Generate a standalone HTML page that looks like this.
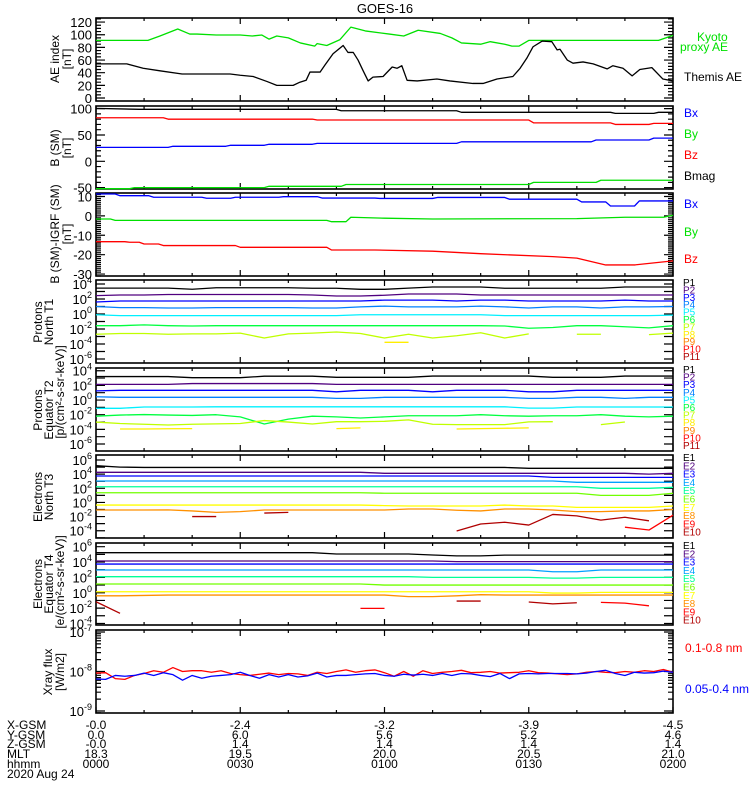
<!DOCTYPE html>
<html><head><meta charset="utf-8"><title>GOES-16</title>
<style>
html,body{margin:0;padding:0;background:#fff;}
svg{display:block;font-family:"Liberation Sans",sans-serif;}
</style></head>
<body>
<svg id="chart" width="750" height="800" viewBox="0 0 750 800" xmlns="http://www.w3.org/2000/svg">
<rect x="0" y="0" width="750" height="800" fill="#fff"/>
<text x="385" y="13" font-size="13" text-anchor="middle">GOES-16</text>
<g id="axes"></g><g id="series"></g><g id="labels"></g>
</svg>
<script>
// ---------- DATA ----------
const kyotoT=[0,10.8,13.3,17,19.5,21,25,30,32.5,34.5,36,37.6,40,42.5,45.5,46,48,50.7,53,56,61,64,67,71.6,74,76,80,82,85,86.5,88,90,117,120];
const kyotoV=[91,91,98,109,101,101,99.5,99.5,98,99.5,93,98,95,87,82,86,83,92,112,106,101,98,107,102,95,87,85,89,85,82,82,91,91,99];
const themisT=[0,6.4,9.8,13.3,17.9,21.6,27.9,30,32.7,35.6,37.6,41,42.4,43.7,44.5,46.6,47.6,49.3,51.4,52.4,53.5,54.5,55.5,56.6,57.6,59.7,61.6,62.6,63.6,64.7,66.8,70.9,73.6,78.4,80.5,83.4,86.7,88.2,89.6,90.9,92.8,94.8,95.9,96.5,98,99.2,101.3,103.4,106.3,107.5,109.6,111.5,113.1,115.6,117.9,120];
const themisV=[54,54,47,43,38,38,38,36,34,26,20,20,25,28,41,41,52,70,83,72,72,60,44,27,33,34,49,47,51,28,27,30,27,23,23,30,34,47,63,81,90,89,76,77,60,55,57,54,46,51,47,35,45,48,30,27];

const bmagT=[0,9,50,51,75,76,107,108,116,117,120];
const bmagV=[100.5,98.7,98.7,96,96,93,93,91,91,93,93];
const bzT=[0,14,15,16,45,46,90,91,107,108,115,116,120];
const bzV=[82.7,82.7,80,80,80,78.4,78.4,73,73,70,70,72,72];
const bxT=[0,15,16,27,28,35,36,45,46,75,76,103,104,115,116,120];
const bxV=[26.5,26.5,28.5,28.5,30.4,30.4,32.3,32.3,34,34,37,37,40.4,40.4,44,44];
const byT=[0,7,8,35,36,51,52,90,91,104,105,120];
const byV=[-52,-52,-50,-50,-47.5,-47.5,-44,-44,-40,-40,-36,-36];

const dbxT=[0,4,5,11,12,22,23,28,29,38,39,46,47,58,59,70,71,85,86,100,101,106,107,112,113,120];
const dbxV=[11.3,11.3,10.4,10.4,9.6,9.6,9.1,9.1,9.6,9.6,9.9,9.9,9.2,9.2,9.0,9.0,9.5,9.5,8.6,8.6,7.2,7.2,5.1,5.1,7.7,7.7];
const dbyT=[0,3,4,48,49,52,53,60,70,100,110,118,120];
const dbyV=[-1.6,-1.6,-2.3,-2.3,-3,-3,-0.7,-1.2,-1.6,-1.4,-0.7,-0.7,0.3];
const dbzT=[0,6,7,9,10,13,14,29,30,48,49,58,70,80,95,100,106,112,120];
const dbzV=[-13.3,-13.3,-13.6,-13.6,-14.5,-14.5,-15.3,-15.3,-16.2,-16.2,-17.6,-17.6,-18.2,-19.5,-21,-21.8,-25.3,-25.3,-23.2];

// 5-minute grid (minutes after 0000), flux values as log10
const chanT=[0,5,10,15,20,25,30,35,40,45,50,55,60,65,70,75,80,85,90,95,100,105,110,115,120];
const p1T1=[3.45,3.45,3.45,3.45,3.3,3.5,3.5,3.5,3.5,3.43,3.43,3.29,3.29,3.45,3.6,3.6,3.6,3.43,3.43,3.43,3.43,3.43,3.6,3.6,3.6];
const p2T1=[2.45,2.53,2.53,2.6,2.6,2.6,2.6,2.6,2.6,2.53,2.4,2.4,2.5,2.66,2.66,2.66,2.53,2.53,2.53,2.53,2.53,2.53,2.53,2.53,2.53];
const p3T1=[1.6,1.73,1.73,1.73,1.73,1.73,1.73,1.73,1.73,1.73,1.73,1.73,1.85,1.85,1.85,1.73,1.85,1.85,1.73,1.73,1.73,1.73,1.85,1.73,1.73];
const p4T1=[1.0,0.85,0.85,0.8,0.8,0.85,0.85,0.85,0.85,0.8,0.8,0.95,1.05,0.95,0.95,0.95,1.05,0.95,0.8,0.95,0.95,0.8,0.95,0.95,1.0];
const p5T1=[-0.1,-0.22,-0.22,-0.22,-0.22,-0.22,-0.22,-0.22,-0.22,-0.22,-0.22,-0.1,-0.1,-0.1,-0.1,-0.1,-0.1,-0.22,-0.22,-0.22,-0.22,-0.22,-0.22,-0.22,-0.15];
const p6T1=[-1.56,-1.56,-1.45,-1.56,-1.6,-1.56,-1.56,-1.56,-1.56,-1.56,-1.56,-1.56,-1.56,-1.56,-1.56,-1.56,-1.56,-1.6,-1.9,-1.8,-1.56,-1.56,-1.7,-1.85,-1.56];
const p7T1=[-2.7,-2.6,-2.6,-2.7,-2.65,-2.65,-2.55,-3.2,-2.65,-2.55,-2.4,-2.6,-3.2,-2.7,-3.2,-2.9,-2.5,-3.2,-2.65,null,-2.7,-2.7,null,-2.75,-2.55];
const p8T1=[null,null,null,null,null,null,null,null,null,null,null,null,-3.77,-3.77,null,null,null,null,null,null,null,null,null,null,null];

const p1T2=[3.2,3.2,3.2,3.2,3.05,3.05,3.05,3.25,3.25,3.25,3.1,3.1,3.1,3.1,3.27,3.27,3.27,3.27,3.27,3.1,3.1,3.1,3.27,3.27,3.27];
const p2T2=[2.14,2.14,2.14,2.14,2.25,2.25,2.25,2.25,2.25,2.25,2.14,2.14,2.14,2.14,2.14,2.14,2.14,2.14,2.14,2.14,2.14,2.14,2.14,2.14,2.14];
const p3T2=[1.25,1.33,1.33,1.33,1.33,1.33,1.33,1.33,1.33,1.33,1.12,1.33,1.33,1.33,1.12,1.33,1.33,1.33,1.12,1.12,1.33,1.33,1.33,1.33,1.33];
const p4T2=[0.45,0.37,0.37,0.37,0.37,0.37,0.37,0.37,0.37,0.37,0.23,0.23,0.37,0.37,0.37,0.37,0.37,0.37,0.23,0.23,0.37,0.37,0.23,0.37,0.37];
const p5T2=[-1.13,-1.13,-0.95,-0.95,-0.95,-0.92,-0.92,-0.92,-0.92,-0.92,-0.92,-0.92,-0.92,-0.92,-0.92,-0.92,-0.92,-0.92,-1.1,-1.1,-0.95,-0.95,-0.95,-0.95,-0.95];
const p6T2=[-2.2,-2.05,-1.98,-2.05,-2.1,-2.0,-2.3,-3.27,-2.6,-2.2,-2.3,-2.45,-2.3,-2.14,-2.14,-2.14,-2.0,-2.14,-2.2,-2.14,-2.14,-2.0,-2.2,-2.3,-2.2];
const p7T2=[-3.0,-3.2,-3.3,-3.4,-3.3,-3.25,-3.2,-2.8,-3.0,-3.27,-2.95,-2.95,-2.9,-2.7,-3.3,-3.35,-3.35,-3.35,-2.98,-2.95,null,-3.35,-3.0,null,null];
const p8T2=[null,-3.95,-3.95,-3.92,-3.9,null,null,null,null,null,-3.9,-3.8,null,null,null,-3.95,-3.9,-3.85,-3.8,null,null,null,null,null,null];

const e1T3=[5.2,5.0,4.95,4.95,4.95,4.95,4.95,4.95,4.95,4.95,4.95,4.95,4.95,4.95,4.95,4.95,4.95,4.95,4.83,4.83,4.83,4.83,4.83,4.83,4.83];
const e2T3=[4.26,4.26,4.26,4.26,4.26,4.26,4.26,4.26,4.26,4.26,4.26,4.26,4.12,4.12,4.12,4.12,4.12,4.12,4.12,4.12,4.12,4.12,4.12,4.0,4.12];
const e3T3=[3.74,3.74,3.74,3.74,3.74,3.74,3.74,3.74,3.74,3.74,3.74,3.74,3.74,3.74,3.74,3.74,3.74,3.74,3.74,3.55,3.55,3.55,3.55,3.55,3.55];
const e4T3=[3.03,3.03,3.03,3.03,3.03,3.03,3.03,3.03,3.03,3.03,3.03,3.03,3.03,3.03,3.03,3.03,3.03,3.03,3.03,3.03,2.85,2.85,2.85,2.85,2.85];
const e5T3=[2.22,2.22,2.22,2.22,2.22,2.22,2.22,2.22,2.22,2.22,2.22,2.22,2.22,2.22,2.22,2.22,2.22,2.22,2.22,2.22,2.22,2.0,2.0,2.0,2.14];
const e6T3=[1.37,1.37,1.37,1.37,1.37,1.37,1.37,1.37,1.37,1.37,1.37,1.37,1.3,1.3,1.3,1.3,1.3,1.3,1.3,1.3,1.3,1.0,1.0,1.0,1.3];
const e7T3=[-0.37,-0.37,-0.37,-0.37,-0.37,-0.37,-0.37,-0.37,-0.37,-0.37,-0.37,-0.37,-0.45,-0.5,-0.5,-0.5,-0.5,-0.37,-0.5,-0.5,-0.7,-0.7,-0.7,-0.7,-0.5];
const e8T3=[-1.07,-1.07,-1.07,-1.05,-1.2,-1.4,-1.3,-1.07,-1.07,-1.07,-1.07,-1.07,-1.07,-0.93,-0.93,-1.1,-1.2,-0.93,-0.93,-1.07,-1.3,-1.3,-1.2,-1.2,-1.0];
const e9T3=[null,null,null,null,null,null,null,null,null,null,null,null,null,null,null,null,null,null,null,null,null,null,-3.5,-3.9,-1.8];
const e10T3=[null,null,null,null,-2.0,-2.0,null,-1.5,-1.4,null,null,null,null,null,null,-4.04,-3.05,-2.8,-3.2,-1.7,-1.9,-2.5,-2.1,-2.6,null];

const e1T4=[5.22,5.22,5.22,5.22,5.22,5.22,5.22,5.22,5.22,5.22,5.05,5.05,5.05,5.05,4.92,4.8,4.8,4.9,4.9,4.9,4.9,4.9,4.9,4.9,4.9];
const e2T4=[4.14,4.14,4.14,4.14,4.14,4.14,4.14,4.14,4.14,4.14,4.14,4.14,4.14,4.14,4.14,4.05,4.05,4.05,4.05,4.05,4.05,4.05,4.05,4.05,4.05];
const e3T4=[3.74,3.74,3.74,3.74,3.74,3.74,3.74,3.74,3.74,3.74,3.74,3.74,3.74,3.74,3.74,3.74,3.74,3.74,3.74,3.74,3.74,3.74,3.74,3.74,3.74];
const e4T4=[2.96,2.96,2.96,2.96,2.96,2.96,2.96,2.96,2.96,2.96,2.96,2.96,2.96,2.96,2.96,2.96,2.96,2.96,2.96,2.74,2.74,2.96,2.96,2.96,2.96];
const e5T4=[2.09,2.09,2.09,2.09,2.09,2.09,2.09,2.09,2.09,2.09,2.09,2.09,2.09,2.09,2.0,2.0,2.0,2.0,2.0,1.9,1.9,2.0,2.0,2.0,2.0];
const e6T4=[1.14,1.14,1.14,1.14,1.14,1.14,1.14,1.14,1.14,1.14,1.14,1.14,1.0,1.0,1.0,1.0,1.0,1.0,1.0,1.0,1.0,1.0,1.0,1.0,1.0];
const e7T4=[0.13,0.13,0.13,0.13,0.13,0.13,0.13,0.13,0.13,0.13,0.13,0.13,0.13,0.13,0.13,0.13,0.13,0.13,0.13,-0.04,-0.04,0.05,0.05,0.05,0.05];
const e8T4=[-0.4,-0.4,-0.35,-0.3,-0.3,-0.3,-0.3,-0.3,-0.3,-0.3,-0.3,-0.3,-0.3,-0.5,-0.5,-0.4,-0.25,-0.3,-0.3,-0.3,-0.3,-0.3,-0.3,-0.3,-0.3];
const e9T4=[null,null,null,null,null,null,null,null,null,null,null,-2.03,-2.03,null,null,null,null,null,null,null,null,-1.25,-1.35,-1.7,null];
const e10T4=[-1.17,-2.68,null,null,null,null,null,null,null,null,null,null,null,null,null,-1.08,-1.08,null,-1.2,-1.45,-1.3,null,null,null,null];

// X-ray flux (log10 W/m2), 2-minute grid
const xrayT=[0,2,4,6,8,10,12,14,16,18,20,22,24,26,28,30,32,34,36,38,40,42,44,46,48,50,52,54,56,58,60,62,64,66,68,70,72,74,76,78,80,82,84,86,88,90,92,94,96,98,100,102,104,106,108,110,112,114,116,118,120];
const xrayLong=[-8.04,-8.03,-8.18,-8.2,-8.1,-8.05,-7.98,-8.02,-7.9,-8.0,-7.98,-7.98,-8.02,-7.98,-8.05,-8.08,-8.1,-8.07,-8.04,-8.08,-8.05,-8.06,-8.1,-8.02,-8.05,-8.0,-7.96,-8.02,-7.98,-7.96,-8.03,-8.12,-8.0,-8.12,-7.98,-8.05,-8.02,-8.0,-7.97,-8.03,-8.02,-8.0,-8.04,-8.03,-8.02,-7.98,-8.03,-8.04,-8.06,-8.08,-8.06,-8.02,-8.0,-8.02,-8.03,-8.0,-8.02,-7.98,-8.0,-7.95,-8.02];
const xrayShort=[-8.19,-8.2,-8.1,-8.12,-8.1,-8.04,-8.1,-8.03,-8.08,-8.22,-8.1,-8.17,-8.12,-8.1,-8.08,-8.02,-8.1,-8.17,-8.08,-8.14,-8.08,-8.14,-8.11,-8.04,-8.14,-8.1,-8.1,-8.08,-8.06,-8.05,-8.1,-8.12,-8.07,-8.09,-8.07,-8.1,-8.05,-8.1,-8.05,-8.06,-8.1,-8.13,-8.05,-8.18,-8.06,-8.05,-8.06,-8.05,-8.05,-8.05,-8.06,-8.04,-8.0,-7.97,-8.05,-8.1,-8.02,-8.04,-8.03,-7.99,-8.02];

// ephemeris table
const ephRows=['X-GSM','Y-GSM','Z-GSM','MLT','hhmm'];
const ephXgsm=['-0.0','-2.4','-3.2','-3.9','-4.5'];
const ephYgsm=['0.0','6.0','5.6','5.2','4.6'];
const ephZgsm=['-0.0','1.4','1.4','1.4','1.4'];
const ephMlt=['18.3','19.5','20.0','20.5','21.0'];
const ephHhmm=['0000','0030','0100','0130','0200'];
const ephTimes=[0,30,60,90,120];

// ---------- LAYOUT ----------
const NS='http://www.w3.org/2000/svg';
const gAxes=document.getElementById('axes'),gSer=document.getElementById('series'),gLab=document.getElementById('labels');
const X0=96,X1=673,TMAX=120;
function xs(t){return X0+t/TMAX*(X1-X0);}
function mk(tag,parent,attrs){const e=document.createElementNS(NS,tag);for(const k in attrs)e.setAttribute(k,attrs[k]);parent.appendChild(e);return e;}
const panels={
 ae:{top:18,bot:101,min:-4.7,max:126.4},
 b:{top:106,bot:189,min:-52.6,max:105},
 db:{top:193,bot:276,min:-31,max:11.8},
 t1:{top:280,bot:363,min:-6.53,max:4.53},
 t2:{top:368,bot:451,min:-6.95,max:4.37},
 t3:{top:455,bot:538,min:-5.03,max:6.71},
 t4:{top:543,bot:625,min:-4.2,max:6.48},
 xr:{top:630,bot:713,min:-9.05,max:-6.95}
};
function ys(p,v){return p.top+(p.max-v)/(p.max-p.min)*(p.bot-p.top);}

function frame(key,name,majors,majLen,minorStep,minLen,labels,isLog,logMinor){
 const p=panels[key];
 const g=mk('g',gAxes,{});
 
 
 const r=mk('rect',g,{x:X0,y:p.top,width:X1-X0,height:p.bot-p.top,fill:'none',stroke:'#000','stroke-width':1.6});
 
 
 let d='';
 for(let t=0;t<=TMAX;t+=10){const x=xs(t);const L=(t%30===0)?6:3;d+=`M${x},${p.bot}v${-L}M${x},${p.top}v${L}`;}
 majors.forEach(v=>{const y=ys(p,v);if(y<p.top-0.5||y>p.bot+0.5)return;d+=`M${X0},${y}h${majLen}M${X1},${y}h${-majLen}`;});
 if(minorStep){const s=Math.ceil(p.min/minorStep)*minorStep;for(let v=s;v<=p.max;v+=minorStep){const y=ys(p,v);d+=`M${X0},${y}h${minLen}M${X1},${y}h${-minLen}`;}}
 if(logMinor){for(let e=Math.floor(p.min);e<=p.max;e++){for(let m=2;m<10;m++){const v=e+Math.log10(m);if(v<p.min||v>p.max)continue;const y=ys(p,v);d+=`M${X0},${y}h${minLen}M${X1},${y}h${-minLen}`;}}}
 const path=mk('path',g,{d:d,stroke:'#000','stroke-width':1.2,fill:'none'});
 
 
 labels.forEach(v=>{const y=ys(p,v);const t=mk('text',g,{x:92,y:y+5,'font-size':13,'text-anchor':'end'});
  
  
  if(isLog){t.textContent='10';const sp=mk('tspan',t,{dy:-6,'font-size':9});sp.textContent=String(v);}
  else t.textContent=String(v);});
}
frame('ae','ae-index',[0,20,40,60,80,100,120],9,5,5,[0,20,40,60,80,100,120],false);
frame('b','b-sm',[-50,0,50,100],9,10,5,[-50,0,50,100],false);
frame('db','b-igrf',[-30,-20,-10,0,10],9,1,5,[-30,-20,-10,0,10],false);
frame('t1','protons-t1',[4,3,2,1,0,-1,-2,-3,-4,-5,-6],9,0,0,[4,2,0,-2,-4,-6],true);
frame('t2','protons-t2',[4,3,2,1,0,-1,-2,-3,-4,-5,-6],9,0,0,[4,2,0,-2,-4,-6],true);
frame('t3','electrons-t3',[6,5,4,3,2,1,0,-1,-2,-3,-4,-5],9,0,0,[6,4,2,0,-2,-4],true);
frame('t4','electrons-t4',[6,5,4,3,2,1,0,-1,-2,-3,-4],9,0,0,[6,4,2,0,-2,-4],true);
frame('xr','xray',[-7,-8,-9],9,0,5,[-7,-8,-9],true,true);

function line(key,T,V,color,name){
 const p=panels[key];let d='',pen=false;
 for(let i=0;i<T.length;i++){const v=V[i];if(v===null||v===undefined){pen=false;continue;}
  d+=(pen?'L':'M')+xs(T[i]).toFixed(2)+','+ys(p,v).toFixed(2);pen=true;}
 const e=mk('path',gSer,{d:d,stroke:color,'stroke-width':1.3,fill:'none','stroke-linejoin':'round'});
 
 
}
const GRN='#00e000';
line('ae',kyotoT,kyotoV,GRN,'kyoto-ae-line');
line('ae',themisT,themisV,'#000','themis-ae-line');
line('b',bmagT,bmagV,'#000','bmag-line');
line('b',bzT,bzV,'#ff0000','bz-line');
line('b',bxT,bxV,'#0000ff','bx-line');
line('b',byT,byV,GRN,'by-line');
line('db',dbxT,dbxV,'#0000ff','dbx-line');
line('db',dbyT,dbyV,GRN,'dby-line');
line('db',dbzT,dbzV,'#ff0000','dbz-line');

const PC=['#000000','#50007f','#0000ff','#0080ff','#00f0ff','#00ff40','#c0ff00','#ffee00','#ff8000','#ff0000','#b00000'];
const EC=['#000000','#50007f','#0000ff','#00a0ff','#00ff99','#70ff00','#ffff00','#ff9000','#ff0000','#b00000'];
[p1T1,p2T1,p3T1,p4T1,p5T1,p6T1,p7T1,p8T1].forEach((a,i)=>line('t1',chanT,a,PC[i],'t1-p'+(i+1)+'-line'));
[p1T2,p2T2,p3T2,p4T2,p5T2,p6T2,p7T2,p8T2].forEach((a,i)=>line('t2',chanT,a,PC[i],'t2-p'+(i+1)+'-line'));
[e1T3,e2T3,e3T3,e4T3,e5T3,e6T3,e7T3,e8T3,e9T3,e10T3].forEach((a,i)=>line('t3',chanT,a,EC[i],'t3-e'+(i+1)+'-line'));
[e1T4,e2T4,e3T4,e4T4,e5T4,e6T4,e7T4,e8T4,e9T4,e10T4].forEach((a,i)=>line('t4',chanT,a,EC[i],'t4-e'+(i+1)+'-line'));
line('xr',xrayT,xrayLong,'#ff0000','xray-long-line');
line('xr',xrayT,xrayShort,'#0000ff','xray-short-line');

// ---------- LABELS ----------
function txt(x,y,s,opts,name){const t=mk('text',gLab,Object.assign({x:x,y:y,'font-size':12},opts||{}));t.textContent=s;
 
 return t;}
function vtxt(x,y,s,name,fs){const t=mk('text',gLab,{x:x,y:y,'font-size':fs||12,'text-anchor':'middle',transform:`rotate(-90 ${x} ${y})`});t.textContent=s;
 
 return t;}
vtxt(59,59,'AE index','ae-axis-title');vtxt(71,59,'[nT]','ae-axis-unit');
vtxt(59,148,'B (SM)','b-axis-title');vtxt(71,148,'[nT]','b-axis-unit');
vtxt(59,234,'B (SM)-IGRF (SM)','db-axis-title');vtxt(71,234,'[nT]','db-axis-unit');
vtxt(42,322,'Protons','t1-axis-title');vtxt(53,322,'North T1','t1-axis-subtitle');
vtxt(42,410,'Protons','t2-axis-title');vtxt(53,410,'Equator T2','t2-axis-subtitle');
vtxt(64,392,'[p/(cm\u00b2-s-sr-keV)]','proton-flux-unit');
vtxt(42,497,'Electrons','t3-axis-title');vtxt(53,497,'North T3','t3-axis-subtitle');
vtxt(42,584,'Electrons','t4-axis-title');vtxt(53,584,'Equator T4','t4-axis-subtitle');
vtxt(64,582,'[e/(cm\u00b2-s-sr-keV)]','electron-flux-unit');
vtxt(52,672,'Xray flux','xray-axis-title');vtxt(64,672,'[W/m2]','xray-axis-unit');

txt(697,41,'Kyoto',{fill:GRN},'legend-kyoto');
txt(680,51,'proxy AE',{fill:GRN},'legend-proxy-ae');
txt(684,81,'Themis AE',{},'legend-themis-ae');
txt(684,117,'Bx',{fill:'#0000ff'},'legend-bx');
txt(684,138,'By',{fill:GRN},'legend-by');
txt(684,159,'Bz',{fill:'#ff0000'},'legend-bz');
txt(684,180,'Bmag',{},'legend-bmag');
txt(684,208,'Bx',{fill:'#0000ff'},'legend-dbx');
txt(684,236,'By',{fill:GRN},'legend-dby');
txt(684,263,'Bz',{fill:'#ff0000'},'legend-dbz');
for(let i=0;i<11;i++){txt(683,286+i*7.4,'P'+(i+1),{'font-size':10,fill:PC[i]},'legend-t1-p'+(i+1));}
for(let i=0;i<11;i++){txt(683,373+i*7.6,'P'+(i+1),{'font-size':10,fill:PC[i]},'legend-t2-p'+(i+1));}
for(let i=0;i<10;i++){txt(683,461+i*8.3,'E'+(i+1),{'font-size':10,fill:EC[i]},'legend-t3-e'+(i+1));}
for(let i=0;i<10;i++){txt(683,549+i*8.3,'E'+(i+1),{'font-size':10,fill:EC[i]},'legend-t4-e'+(i+1));}
txt(685,652,'0.1-0.8 nm',{fill:'#ff0000'},'legend-xray-long');
txt(685,693,'0.05-0.4 nm',{fill:'#0000ff'},'legend-xray-short');

// ephemeris
const ephCols=[ephXgsm,ephYgsm,ephZgsm,ephMlt,ephHhmm];
const rowY=[729,739,748,758,768];
ephRows.forEach((r,i)=>{txt(7,rowY[i],r,{},'eph-row-'+r.toLowerCase());
 ephTimes.forEach((t,j)=>{txt(xs(t),rowY[i],ephCols[i][j],{'text-anchor':'middle'},'eph-'+r.toLowerCase()+'-value');});});
txt(7,778,'2020 Aug 24',{},'eph-date');
</script>
</body></html>
